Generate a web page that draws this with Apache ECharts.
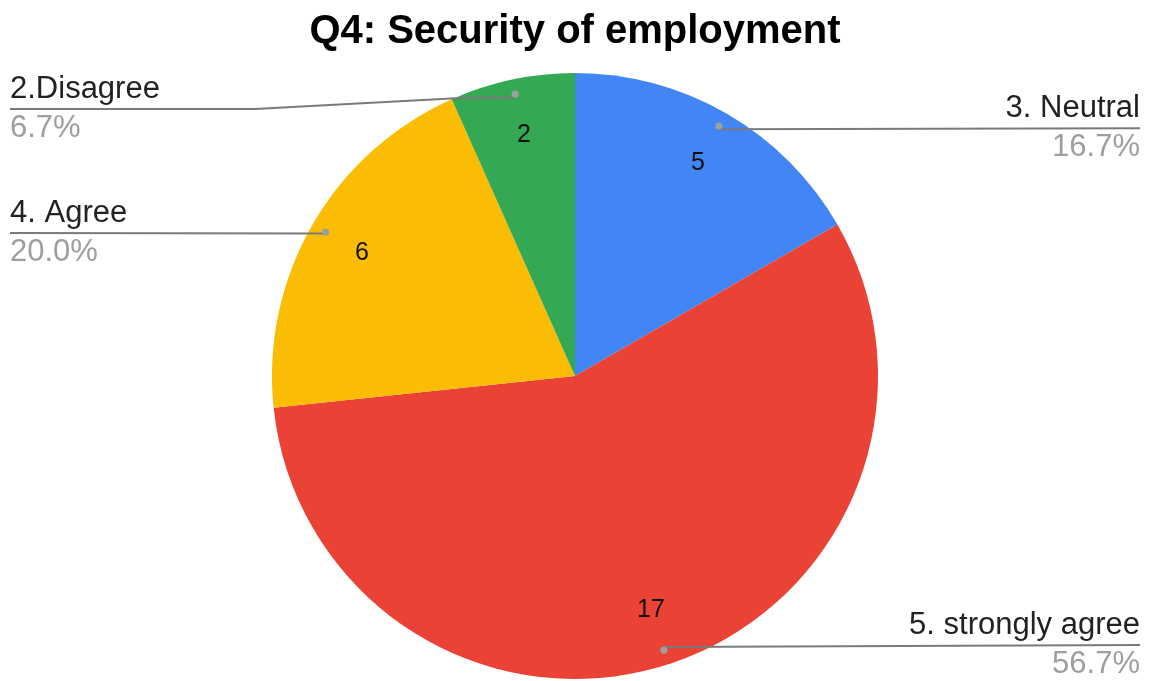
<!DOCTYPE html>
<html>
<head>
<meta charset="utf-8">
<title>Q4: Security of employment</title>
<script src="https://cdn.jsdelivr.net/npm/echarts@6/dist/echarts.min.js"></script>
<style>
  html, body { margin: 0; padding: 0; background: #fff; }
  #main { width: 1150px; height: 681px; }
</style>
</head>
<body>
<div id="main"></div>
<script>
// 数据
var categories = ['3. Neutral', '5. strongly agree', '4. Agree', '2.Disagree'];
var counts = [5, 17, 6, 2];
var colors = ['#4285F4', '#EA4335', '#FBBC04', '#34A853'];

var total = 0;
for (var i = 0; i < counts.length; i++) total += counts[i];

var pieData = [];
for (var i = 0; i < categories.length; i++) {
    pieData.push({ name: categories[i], value: counts[i], itemStyle: { color: colors[i] } });
}
var ghostData = [];
for (var i = 0; i < categories.length; i++) {
    ghostData.push({ name: categories[i], value: counts[i] });
}

var center = [575, 376];
var dotRadius = 285;
var fontName = '"Liberation Sans", Arial, sans-serif';
var labelTopMin = 74;   // 标签不能压到标题

var myChart = echarts.init(document.getElementById('main'));
var option = {
    backgroundColor: '#fff',
    title: {
        text: 'Q4: Security of employment',
        left: 'center',
        top: 7,
        textStyle: { fontFamily: fontName, fontSize: 40, fontWeight: 'bold', color: '#000' }
    },
    series: [
        {   // 饼图本体
            type: 'pie',
            center: center,
            radius: [0, 303],
            startAngle: 90,
            clockwise: true,
            silent: true,
            z: 1,
            label: { show: false },
            labelLine: { show: false },
            itemStyle: { borderWidth: 0 },
            data: pieData
        },
        {   // 数值标签
            type: 'pie',
            center: center,
            radius: [183, 303],
            startAngle: 90,
            silent: true,
            z: 3,
            itemStyle: { color: 'rgba(0,0,0,0)' },
            label: {
                show: true,
                position: 'inside',
                formatter: '{c}',
                fontFamily: fontName,
                fontSize: 25,
                color: '#111'
            },
            labelLine: { show: false },
            data: ghostData
        },
        {   // 外部名称 + 百分比
            type: 'pie',
            center: center,
            radius: [0, dotRadius],
            startAngle: 90,
            silent: true,
            z: 4,
            itemStyle: { color: 'rgba(0,0,0,0)' },
            label: {
                show: true,
                position: 'outside',
                alignTo: 'edge',
                edgeDistance: 10,
                fontFamily: fontName,
                formatter: function (p) {
                    return '{n|' + p.name + '}\n{p|' + (p.value / total * 100).toFixed(1) + '%}';
                },
                rich: {
                    n: { fontFamily: fontName, fontSize: 31, color: '#222', lineHeight: 39 },
                    p: { fontFamily: fontName, fontSize: 31, color: '#9e9e9e', lineHeight: 39 }
                }
            },
            labelLine: {
                show: true,
                length: 1,
                length2: 10,
                lineStyle: { color: '#7a7a7a', width: 2 }
            },
            labelLayout: function (params) {
                var pts = params.labelLinePoints;
                var r = params.labelRect;
                if (!pts || !r) return {};
                // 引线起点放在圆点处
                var ddx = pts[0][0] - center[0], ddy = pts[0][1] - center[1];
                var len = Math.sqrt(ddx * ddx + ddy * ddy) || 1;
                var p0 = [center[0] + ddx / len * dotRadius, center[1] + ddy / len * dotRadius];
                var last = pts[pts.length - 1];
                var rightSide = r.x + r.width / 2 > center[0];
                var edgeX = rightSide ? r.x + r.width : r.x;
                if (r.y < labelTopMin) {
                    // 往下挪，引线先水平再斜下
                    var dy = labelTopMin - r.y;
                    var y = last[1] + dy;
                    var dir = rightSide ? 1 : -1;
                    var kinkX = rightSide ? r.x - 95 : r.x + r.width + 95;
                    return {
                        y: r.y + dy + r.height / 2,
                        verticalAlign: 'middle',
                        labelLinePoints: [p0, [p0[0] + dir * 60, p0[1] + 1], [kinkX, y], [edgeX, y]]
                    };
                }
                return { labelLinePoints: [p0, [edgeX, last[1]]] };
            },
            data: ghostData
        },
        {   // 引线的圆点
            type: 'pie',
            center: center,
            radius: [dotRadius - 6, dotRadius + 6],
            startAngle: 90,
            silent: true,
            z: 5,
            itemStyle: { color: 'rgba(0,0,0,0)' },
            label: {
                show: true,
                position: 'inside',
                formatter: '●',
                fontSize: 17,
                color: '#9e9e9e'
            },
            labelLine: { show: false },
            data: ghostData
        }
    ]
};
myChart.setOption(option);
</script>
</body>
</html>
